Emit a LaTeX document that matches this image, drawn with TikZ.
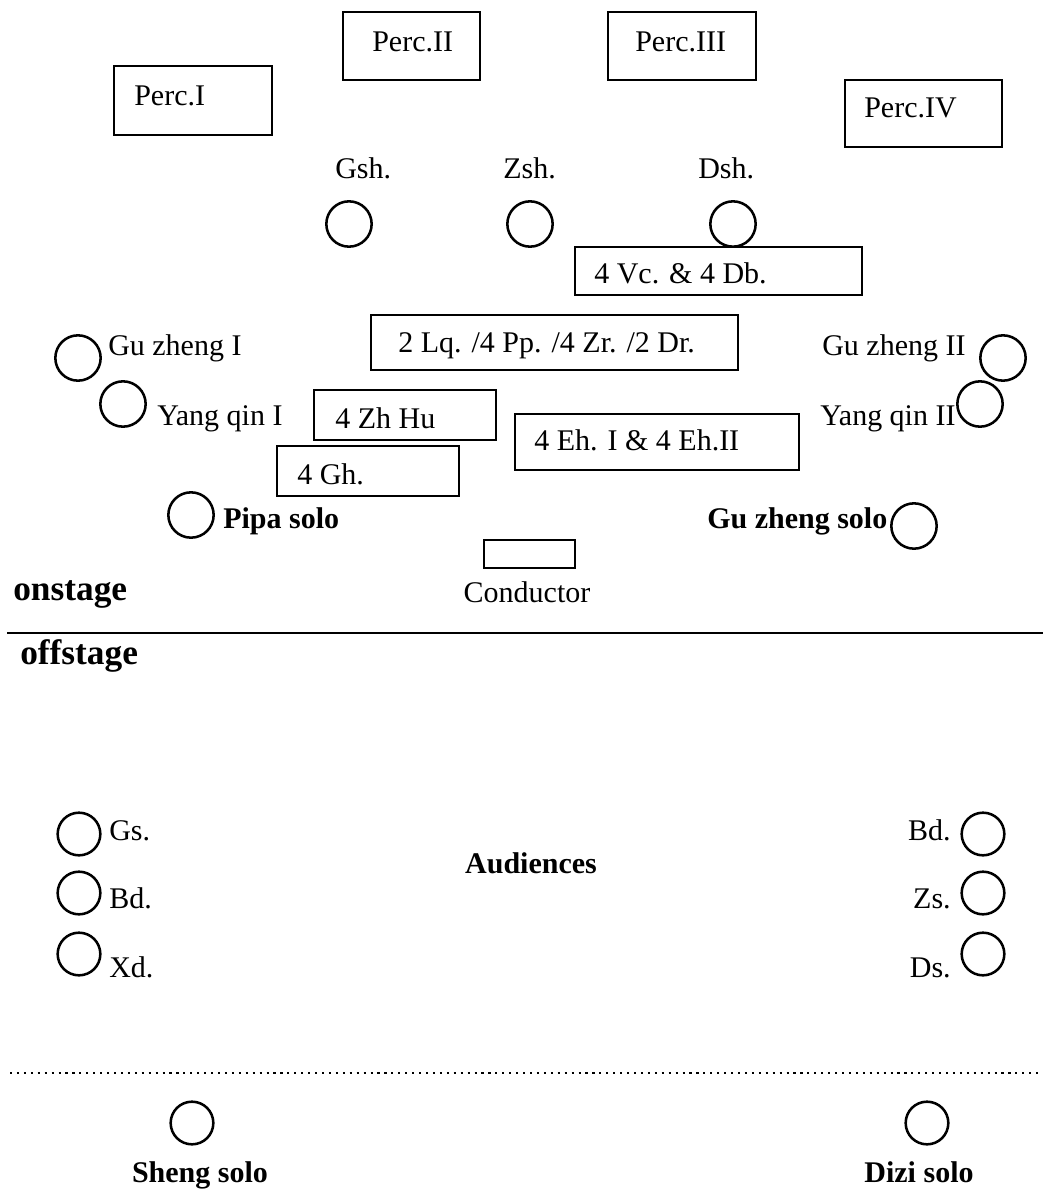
\documentclass[tikz,border=0pt]{standalone}
\usepackage{fontspec}
\setmainfont{Liberation Serif}
\usetikzlibrary{fit}
\begin{document}
\begin{tikzpicture}[x=0.75pt,y=-0.75pt,
  box/.style={draw,line width=2pt,inner sep=0pt,rectangle},
  ring/.style={draw,line width=1.9pt,circle,inner sep=0pt,minimum size=34pt},
  ringb/.style={draw,line width=1.9pt,circle,inner sep=0pt,minimum size=32pt},
  lbl/.style={inner sep=0pt,anchor=base west,font=\fontsize{22.5}{27}\selectfont},
  lblr/.style={inner sep=0pt,anchor=base east,font=\fontsize{22.5}{27}\selectfont},
  blbl/.style={inner sep=0pt,anchor=base west,font=\fontsize{22.5}{27}\selectfont\bfseries},
  big/.style={inner sep=0pt,anchor=base west,font=\fontsize{26.5}{32}\selectfont\bfseries},
  sep/.style={line width=2.2pt},
  dotsep/.style={line width=1.6pt,dash pattern=on 1.6pt off 3.6pt}]
\useasboundingbox (0,0) rectangle (1043,1189);
% percussion boxes
\node[box,fit={(114,66) (272,135)}] (p1) {};
\node[lbl] (p1t) at (134,105) {Perc.I};
\node[box,fit={(343,12) (480,80)}] (p2) {};
\node[lbl] (p2t) at (372,51) {Perc.II};
\node[box,fit={(608,12) (756,80)}] (p3) {};
\node[lbl] (p3t) at (635,51) {Perc.III};
\node[box,fit={(845,80) (1002,147)}] (p4) {};
\node[lbl] (p4t) at (864,117) {Perc.IV};
% sheng row
\node[lbl] (gsht) at (335,178) {Gsh.};
\node[ring] (gsh) at (349,224) {};
\node[lbl] (zsht) at (503,178) {Zsh.};
\node[ring] (zsh) at (530,224) {};
\node[lbl] (dsht) at (698,178) {Dsh.};
\node[ring] (dsh) at (733,224) {};
% strings boxes
\node[box,fit={(575,247) (862,295)}] (vc) {};
\node[lbl] (vct) at (594,283) {4 Vc. \& 4 Db.};
\node[box,fit={(371,315) (738,370)}] (lq) {};
\node[lbl] (lqt) at (398,352) {2 Lq. /4 Pp. /4 Zr. /2 Dr.};
\node[box,fit={(314,390) (496,440)}] (zh) {};
\node[lbl] (zht) at (335,428) {4 Zh Hu};
\node[box,fit={(515,414) (799,470)}] (eh) {};
\node[lbl] (eht) at (534,450) {4 Eh. I \& 4 Eh.II};
\node[box,fit={(277,446) (459,496)}] (gh) {};
\node[lbl] (ght) at (297,484) {4 Gh.};
% side instruments
\node[ring] (gz1) at (78,358) {};
\node[lbl] (gz1t) at (108,355) {Gu zheng I};
\node[ring] (yq1) at (123,404) {};
\node[lbl] (yq1t) at (157,425) {Yang qin I};
\node[ring] (gz2) at (1003,358) {};
\node[lbl] (gz2t) at (822,355) {Gu zheng II};
\node[ring] (yq2) at (980,404) {};
\node[lbl] (yq2t) at (820,425) {Yang qin II};
% soloists
\node[ring] (pipa) at (191,515) {};
\node[blbl] (pipat) at (223,528) {Pipa solo};
\node[ring] (gzs) at (914,526) {};
\node[blbl] (gzst) at (707,528) {Gu zheng solo};
% conductor
\node[box,fit={(484,540) (575,568)}] (cond) {};
\node[lbl,anchor=base] (condt) at (527,602) {Conductor};
% stage labels and line
\node[big] (on) at (13,600) {onstage};
\coordinate (sl) at (7,633);
\coordinate (sr) at (1043,633);
\draw[sep] (sl) -- (sr);
\node[big] (off) at (20,664) {offstage};
% audience area
\node[ringb] (gs) at (79,834) {};
\node[lbl] (gst) at (109,840) {Gs.};
\node[ringb] (bdl) at (79,893) {};
\node[lbl] (bdlt) at (109,908) {Bd.};
\node[ringb] (xd) at (79,954) {};
\node[lbl] (xdt) at (109,977) {Xd.};
\node[blbl,anchor=base] (aud) at (531,873) {Audiences};
\node[ringb] (bdr) at (983,834) {};
\node[lblr] (bdrt) at (951,840) {Bd.};
\node[ringb] (zs) at (983,893) {};
\node[lblr] (zst) at (951,908) {Zs.};
\node[ringb] (ds) at (983,954) {};
\node[lblr] (dst) at (951,977) {Ds.};
% dotted line
\coordinate (dl) at (10,1073);
\coordinate (dr) at (1043,1073);
\draw[dotsep] (dl) -- (dr);
% offstage soloists
\node[ringb] (sheng) at (192,1123) {};
\node[blbl,anchor=base] (shengt) at (200,1182) {Sheng solo};
\node[ringb] (dizi) at (927,1123) {};
\node[blbl,anchor=base] (dizit) at (919,1182) {Dizi solo};
\end{tikzpicture}
\end{document}
